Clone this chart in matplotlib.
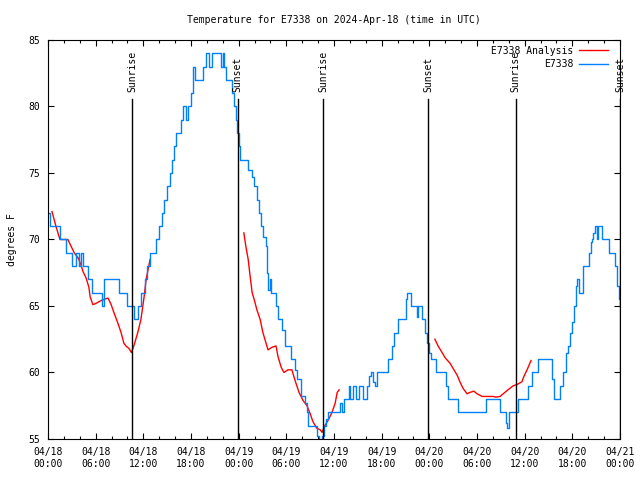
import matplotlib
matplotlib.use("Agg")
import matplotlib.pyplot as plt
import matplotlib.dates as mdates
import numpy as np
from datetime import datetime, timedelta

START = datetime(2024, 4, 18)

# E7338 observations: (hours since 04/18 00:00 UTC, deg F), held until next time
obs_hours = [0.0, 0.25, 1.5, 2.3, 3.0, 3.5, 3.9, 4.15, 4.35, 5.0, 5.55, 6.8, 7.05,
             8.95, 9.95, 10.8, 11.3, 11.7, 12.2, 12.45, 12.85, 13.6, 14.0, 14.35,
             14.6, 15.0, 15.35, 15.6, 15.85, 16.1, 16.75, 17.0, 17.35, 17.6, 18.0,
             18.25, 18.5, 19.5, 19.9, 20.25, 20.65, 21.8, 22.0, 22.15, 22.4, 23.15,
             23.4, 23.65, 23.85, 24.0, 24.15, 25.2, 25.7, 25.95, 26.25, 26.5, 26.8,
             27.05, 27.4, 27.55, 27.75, 27.95, 28.1, 28.75, 28.95, 29.45, 29.85,
             30.65, 31.05, 31.4, 31.85, 32.3, 32.55, 32.7, 33.85, 34.1, 34.5, 34.75,
             35.05, 35.3, 36.75, 37.0, 37.2, 37.85, 38.0, 38.35, 38.75, 39.15, 39.6,
             40.15, 40.45, 40.7, 40.95, 41.15, 41.4, 42.8, 43.35, 43.6, 44.05, 45.05,
             45.25, 45.65, 46.4, 46.6, 47.1, 47.45, 47.7, 47.95, 48.2, 48.85, 50.1,
             50.4, 51.6, 55.15, 56.95, 57.6, 57.8, 58.05, 59.15, 60.4, 60.9, 61.7,
             63.45, 63.7, 64.45, 64.85, 65.2, 65.45, 65.7, 66.0, 66.2, 66.45, 66.6,
             66.8, 67.35, 68.05, 68.3, 68.5, 68.65, 68.85, 69.05, 69.25, 69.7, 70.6,
             71.35, 71.6, 71.85, 72.0]
obs_temp = [72, 71, 70, 69, 68, 69, 68, 69, 68, 67, 66, 65, 67,
            66, 65, 64, 65, 66, 67, 68, 69, 70, 71, 72,
            73, 74, 75, 76, 77, 78, 79, 80, 79, 80, 81,
            83, 82, 83, 84, 83, 84, 83, 84, 83, 82, 81,
            80, 79, 78, 77, 76, 75.2, 74.7, 74, 73, 72, 71,
            70.2, 69.5, 67.5, 66.2, 67, 66, 65, 64, 63.2, 62,
            61, 60.2, 59.5, 58.2, 57.7, 57, 56, 55.2, 54.5, 55.2, 56,
            56.5, 57, 57.7, 57, 58, 59, 58, 59, 58, 59, 58,
            59, 59.7, 60, 59.3, 59, 60, 61, 62, 63, 64, 65.5,
            66, 65, 64.2, 65, 64, 63, 62.2, 61.5, 61, 60, 59,
            58, 57, 58, 57, 56.2, 55.8, 57, 58, 59, 60, 61,
            59.5, 58, 59, 60, 61.5, 62, 63, 63.8, 65, 66.5, 67,
            66, 68, 69, 69.8, 70, 70.5, 71, 70, 71, 70, 69,
            68, 66.5, 65.5, 65]

# E7338 Analysis, three pieces separated by gaps
ana_hours = [0.5, 1.0, 1.5, 2.5, 2.9, 3.3, 3.8, 4.15, 4.4, 4.8, 5.15, 5.3, 5.65,
             6.05, 6.65, 7.55, 7.95, 8.3, 8.8, 9.2, 9.55, 9.8, 10.2, 10.5, 10.8,
             11.3, 11.7, 12.1, 12.35, 12.85, np.nan,
             24.65, 24.9, 25.2, 25.45, 25.7, 25.95, 26.3, 26.7, 27.05, 27.45, 27.7,
             28.2, 28.7, 28.95, 29.35, 29.7, 30.2, 30.7, 31.1, 31.6, 32.1, 32.6,
             33.0, 33.35, 33.85, 34.25, 34.5, 34.85, 35.25, 35.75, 36.15, 36.4,
             36.65, np.nan,
             48.7, 49.1, 49.6, 50.0, 50.6, 51.0, 51.5, 51.85, 52.25, 52.75, 53.1,
             53.6, 54.0, 54.65, 55.25, 56.0, 56.4, 56.9, 57.3, 57.9, 58.55, 59.05,
             59.65, 59.9, 60.3, 60.8]
ana_temp = [72.1, 71, 70, 70, 69.5, 69, 68.6, 68.1, 67.6, 67.1, 66.4, 65.7, 65.1,
            65.2, 65.4, 65.6, 65.1, 64.5, 63.7, 63, 62.2, 62, 61.8, 61.5, 62,
            63, 64, 65.7, 67, 68.5, np.nan,
            70.5, 69.5, 68.5, 67.2, 66, 65.5, 64.7, 64, 63, 62.2, 61.7,
            61.9, 62, 61.2, 60.4, 60, 60.2, 60.2, 59.4, 58.5, 57.9, 57.5,
            56.9, 56.3, 55.8, 55.7, 55.5, 56, 56.4, 57, 57.7, 58.5,
            58.7, np.nan,
            62.5, 62, 61.5, 61.1, 60.7, 60.3, 59.8, 59.3, 58.8, 58.4, 58.5,
            58.6, 58.4, 58.2, 58.2, 58.2, 58.15, 58.2, 58.4, 58.7, 59, 59.1,
            59.3, 59.7, 60.2, 60.9]

sun_hours = [10.57, 23.88, 34.65, 47.87, 58.87, 72.0]
sun_labels = ["Sunrise", "Sunset", "Sunrise", "Sunset", "Sunrise", "Sunset"]

FONT = "DejaVu Sans Mono"
FS = 7


def to_dt(hours):
    return [START + timedelta(hours=h) for h in hours]


def ana_dt(hours):
    out = []
    for h in hours:
        out.append(np.datetime64("NaT") if np.isnan(h) else np.datetime64(START + timedelta(hours=h)))
    return np.array(out, dtype="datetime64[ms]")


plt.rcParams["font.family"] = [FONT]
fig = plt.figure(figsize=(6.4, 4.8), dpi=100)
ax = fig.add_axes([48 / 640, 1 - 439 / 480, 572 / 640, 399 / 480])

ax.plot(ana_dt(ana_hours), ana_temp, color="#ff0000", lw=1.0, label="E7338 Analysis")
ax.step(to_dt(obs_hours), obs_temp, where="post", color="#0080ff", lw=1.0, label="E7338")

for h, lab in zip(sun_hours, sun_labels):
    t = START + timedelta(hours=h)
    ax.plot([t, t], [55, 80.6], color="black", lw=1.0)
    ax.text(t, 81.1, lab, rotation=90, ha="center", va="bottom", fontsize=FS)

ax.set_xlim(START, START + timedelta(hours=72))
ax.set_ylim(55, 85)
ax.xaxis.set_major_locator(mdates.HourLocator(byhour=[0, 6, 12, 18]))
ax.xaxis.set_minor_locator(mdates.HourLocator(byhour=range(0, 24, 2)))
ax.xaxis.set_major_formatter(mdates.DateFormatter("%m/%d\n%H:%M"))
ax.set_yticks(range(55, 86, 5))
ax.tick_params(which="both", direction="in", top=True, right=True, labelsize=FS, width=0.8)
ax.tick_params(which="major", length=4, pad=6)
ax.tick_params(which="minor", length=2.5)
for sp in ax.spines.values():
    sp.set_linewidth(0.8)

ax.set_ylabel("degrees F", fontsize=FS, labelpad=8)
ax.set_title("Temperature for E7338 on 2024-Apr-18 (time in UTC)", fontsize=FS, pad=12)
ax.legend(loc="upper right", bbox_to_anchor=(0.99, 1.0), markerfirst=False,
          frameon=False, fontsize=FS, handlelength=3.0, borderaxespad=0.2,
          labelspacing=0.35, handletextpad=0.6)

fig.savefig("out.png", dpi=100)
